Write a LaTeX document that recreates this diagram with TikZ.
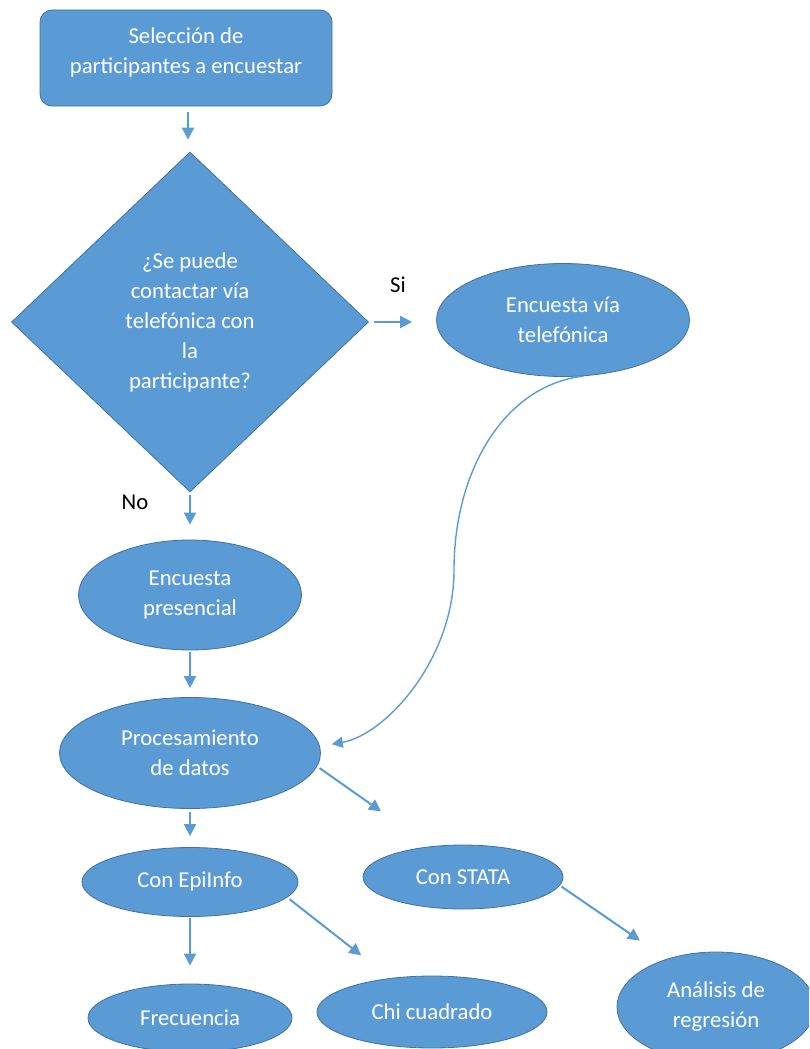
\documentclass[tikz,border=0pt]{standalone}
\usepackage{fontspec}
\setmainfont{Carlito}
\usetikzlibrary{shapes.geometric,arrows.meta}
\definecolor{bfill}{HTML}{5B9BD5}
\definecolor{bline}{HTML}{41719C}
\begin{document}
\begin{tikzpicture}[x=1pt,y=-1pt,
  txt/.style={font=\fontsize{22.7}{30}\selectfont, text=white, align=center, inner sep=0pt},
  boxbase/.style={txt, fill=bfill, draw=bline, line width=0.8pt},
  rectbox/.style={boxbase, rectangle, rounded corners=12pt},
  diam/.style={boxbase, diamond},
  ell/.style={boxbase, ellipse},
  lbl/.style={font=\fontsize{22.7}{30}\selectfont, text=black, inner sep=0pt},
  arr/.style={draw=bfill, line width=2pt, -{Triangle[length=12pt,width=12pt]}},
  carr/.style={draw=bfill, line width=1.4pt, -{Triangle[length=11pt,width=11pt]}}
]
\useasboundingbox (0,0) rectangle (809,1049);
\clip (0,0) rectangle (809,1049);

\node[rectbox, minimum width=292pt, minimum height=96pt] (sel) at (186,58)
  {Selección de\\participantes a encuestar\\[-15pt]\mbox{}};
\node[diam, minimum width=357pt, minimum height=340pt, aspect=1.05] (q) at (190,322)
  {¿Se puede\\contactar vía\\telefónica con\\la\\participante?};
\node[ell, minimum width=253pt, minimum height=113pt] (tel) at (563,320)
  {Encuesta vía\\telefónica};
\node[ell, minimum width=223pt, minimum height=110pt] (pres) at (190,595)
  {Encuesta\\presencial};
\node[ell, minimum width=261pt, minimum height=111pt] (proc) at (190,753)
  {Procesamiento\\de datos};
\node[ell, minimum width=216pt, minimum height=69pt] (epi) at (190,882)
  {Con EpiInfo};
\node[ell, minimum width=200pt, minimum height=64pt] (stata) at (463,877)
  {Con STATA};
\node[ell, minimum width=204pt, minimum height=68pt] (frec) at (190,1018)
  {Frecuencia};
\node[ell, minimum width=230pt, minimum height=72pt] (chi) at (432,1012)
  {Chi cuadrado};
\node[ell, minimum width=198pt, minimum height=110pt] (ana) at (716,1007)
  {Análisis de\\regresión};

\node[lbl] (si) at (398,285) {Si};
\node[lbl] (no) at (135,502) {No};

\draw[arr, shorten <=6pt, shorten >=12pt] (sel.south -| 188,0) -- (q.north -| 188,0);
\draw[arr, shorten <=5pt, shorten >=24pt] (q.east) -- (tel.west |- q.east);
\draw[arr, shorten <=3pt, shorten >=15pt] (q.south) -- (pres.north);
\draw[arr, shorten <=2pt, shorten >=9pt] (pres.south) -- (proc.north);
\draw[carr, shorten >=12pt] (tel.-70) .. controls (505,385) and (454,470) .. (454,570)
  .. controls (454,660) and (385,735) .. (proc.3);
\draw[arr, shorten <=3pt, shorten >=11pt] (proc.south) -- (epi.north);
\draw[arr, shorten <=3pt] (proc.-6) -- ++(64,45);
\draw[arr, shorten <=1pt, shorten >=18pt] (epi.south) -- (frec.north);
\draw[arr, shorten <=3pt] (epi.-9) -- ++(74,58);
\draw[arr, shorten <=2pt] (stata.-5) -- ++(80,55);
\end{tikzpicture}
\end{document}
